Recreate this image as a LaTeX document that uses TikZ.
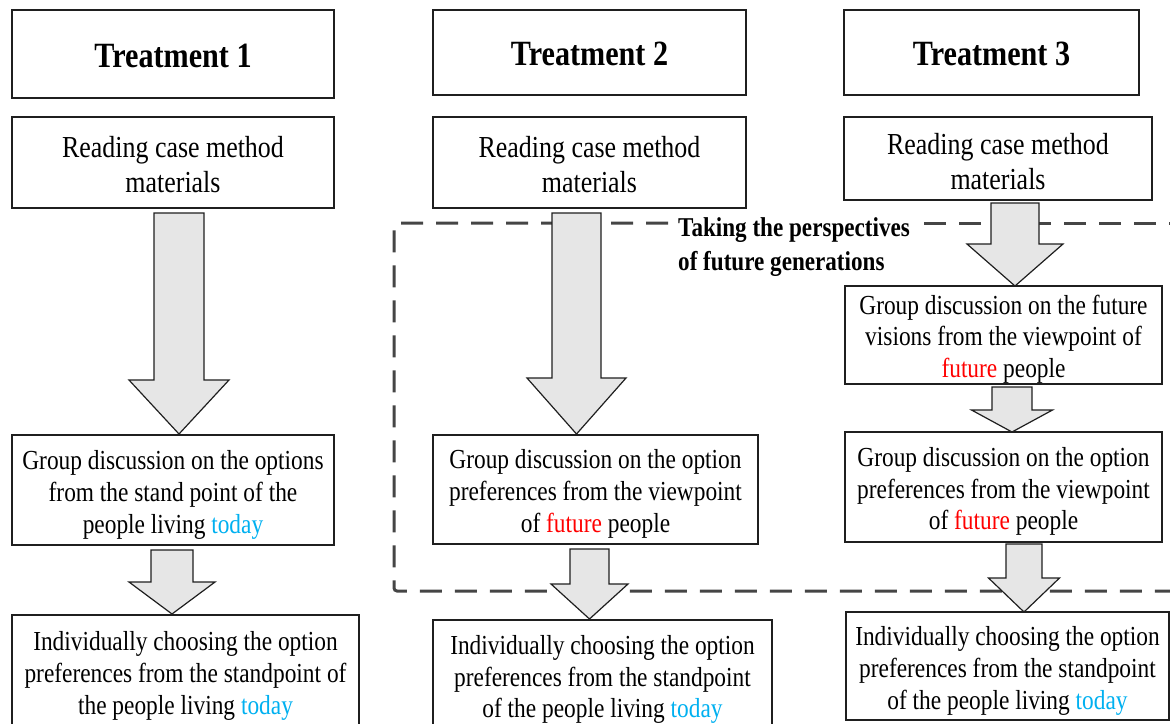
\documentclass[tikz,border=0pt]{standalone}
\usepackage{fontspec}
\setmainfont{Liberation Serif}[FakeStretch=0.85]
\definecolor{todayblue}{HTML}{00B0F0}
\definecolor{futred}{HTML}{FF0000}
\definecolor{arrfill}{HTML}{E6E6E6}
\definecolor{dashgray}{HTML}{454545}
\newcommand{\fut}{\textcolor{futred}{future}}
\newcommand{\tdy}{\textcolor{todayblue}{today}}
% block arrow: center x, top y, head y, tip y, half shaft, half head
\newcommand{\blockarrow}[6]{%
  \draw[blockarr] (#1-#5,#2) -- (#1+#5,#2) -- (#1+#5,#3) -- (#1+#6,#3) -- (#1,#4)
    -- (#1-#6,#3) -- (#1-#5,#3) -- cycle;}
% text box: name, font style, cx, cy, width, height, text shift down, text
\newcommand{\tbox}[8]{%
  \node[box, minimum width=#5, minimum height=#6] (#1) at (#3,#4) {};
  \node[#2, yshift=-#7pt] (#1-text) at (#1.center) {#8};}
\begin{document}
\begin{tikzpicture}[x=1pt,y=-1pt,
  box/.style={draw=black!88, line width=1.2pt, rectangle, inner sep=0pt},
  titlefont/.style={align=center, inner sep=0pt, font=\fontsize{35.5}{40}\selectfont\bfseries},
  readfont/.style={align=center, inner sep=0pt, font=\fontsize{30.5}{35}\selectfont},
  bodyfont/.style={align=center, inner sep=0pt, font=\fontsize{27.5}{31.7}\selectfont},
  blockarr/.style={draw=black!88, line width=1.2pt, fill=arrfill, line join=miter},
  dashbox/.style={draw=dashgray, line width=3pt, dash pattern=on 22pt off 13pt}
]
\useasboundingbox (0,0) rectangle (1170,723);
\clip (0,0) rectangle (1170,723);

% dashed region
\draw[dashbox, rounded corners=3pt] (668,223) -- (394,223) -- (394,591) -- (1185,591);
\draw[dashbox] (924,223) -- (1185,223);
\node[anchor=west, align=left, inner sep=0pt, font=\fontsize{27.2}{34}\selectfont\bfseries]
  (persp) at (678,247.5) {Taking the perspectives\\of future generations};

% Treatment 1
\tbox{t1}{titlefont}{173}{54}{322}{88}{1.5}{Treatment 1}
\tbox{r1}{readfont}{173}{162.5}{322}{91}{2}{Reading case method\\materials}
\tbox{g1}{bodyfont}{173}{490}{322}{110}{5}{Group discussion on the options\\from the stand point of the\\people living \tdy}
\tbox{i1}{bodyfont}{185.5}{673}{347}{116}{3}{Individually choosing the option\\preferences from the standpoint of\\the people living \tdy}

% Treatment 2
\tbox{t2}{titlefont}{589.5}{52.5}{313}{85}{1.5}{Treatment 2}
\tbox{r2}{readfont}{589.5}{162.5}{313}{91}{2}{Reading case method\\materials}
\tbox{g2}{bodyfont}{595.5}{489.5}{325}{109}{4.5}{Group discussion on the option\\preferences from the viewpoint\\of \fut{} people}
\tbox{i2}{bodyfont}{602.5}{676}{339}{112}{3.5}{Individually choosing the option\\preferences from the standpoint\\of the people living \tdy}

% Treatment 3
\tbox{t3}{titlefont}{991.5}{52.5}{295}{85}{1.5}{Treatment 3}
\tbox{r3}{readfont}{998}{158.5}{308}{83}{3}{Reading case method\\materials}
\tbox{g3a}{bodyfont}{1003.5}{335}{317}{98}{4}{Group discussion on the future\\visions from the viewpoint of\\\fut{} people}
\tbox{g3b}{bodyfont}{1003.5}{487}{317}{110}{4.5}{Group discussion on the option\\preferences from the viewpoint\\of \fut{} people}
\tbox{i3}{bodyfont}{1007.5}{666}{323}{108}{5}{Individually choosing the option\\preferences from the standpoint\\of the people living \tdy}

% block arrows
\blockarrow{179}{213}{380}{434}{25}{50}
\blockarrow{172}{550}{582}{614}{21}{43}
\blockarrow{576.5}{213}{378}{434}{24.5}{49.5}
\blockarrow{589.5}{549}{584}{619}{19.5}{38.5}
\blockarrow{1015}{203}{244}{286}{24}{48}
\blockarrow{1012}{387}{410}{432}{20}{40.5}
\blockarrow{1024}{544}{578}{612}{18}{35.5}
\end{tikzpicture}
\end{document}
